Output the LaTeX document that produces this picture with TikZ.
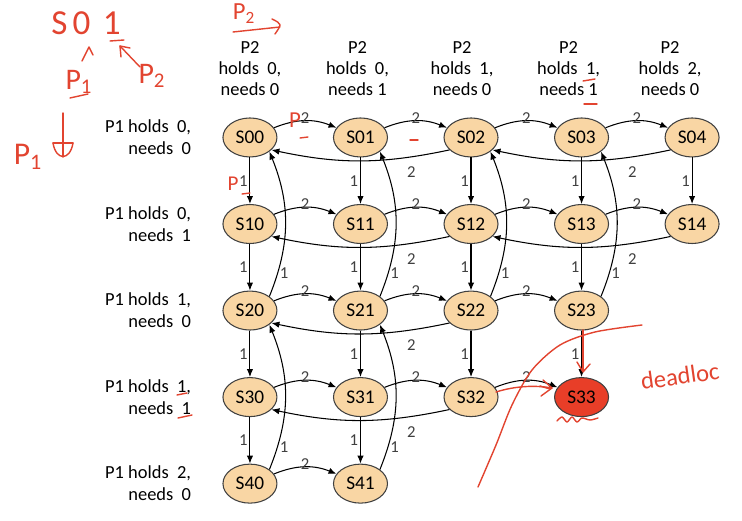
\documentclass[tikz,border=0pt]{standalone}
\usepackage{fontspec}
\setmainfont{Carlito}
\usetikzlibrary{arrows.meta,shapes.geometric,positioning}

\definecolor{stateorange}{RGB}{249,214,164}
\definecolor{deadred}{RGB}{232,62,40}
\definecolor{inkred}{RGB}{226,68,48}

\begin{document}
\begin{tikzpicture}[
  node distance=0.93cm and 1.11cm,
  state/.style={ellipse, draw=black!75, line width=0.6pt, fill=stateorange, minimum width=1.08cm, minimum height=0.78cm, inner sep=0pt, font=\fontsize{11}{13}\selectfont},
  dead/.style={state, fill=deadred},
  arrow/.style={-{Latex[length=4.5pt,width=3.6pt]}, line width=0.6pt},
  lab/.style={font=\fontsize{9.5}{11}\selectfont, text=black!75, inner sep=1pt},
  phead/.style={align=center, inner sep=0pt, font=\fontsize{10.5}{12.2}\selectfont},
  rowhead/.style={align=right, inner sep=0pt, font=\fontsize{10.5}{12.5}\selectfont},
  ink/.style={inkred, line width=0.8pt, line cap=round, line join=round},
  inktext/.style={text=inkred, inner sep=0pt}
]
%% Row 0
\node[state] (S00) {S00};
\node[state, right=of S00] (S01) {S01};
\node[state, right=of S01] (S02) {S02};
\node[state, right=of S02] (S03) {S03};
\node[state, right=of S03] (S04) {S04};

%% Row 1
\node[state, below=of S00] (S10) {S10};
\node[state, right=of S10] (S11) {S11};
\node[state, right=of S11] (S12) {S12};
\node[state, right=of S12] (S13) {S13};
\node[state, right=of S13] (S14) {S14};

%% Row 2
\node[state, below=of S10] (S20) {S20};
\node[state, right=of S20] (S21) {S21};
\node[state, right=of S21] (S22) {S22};
\node[state, right=of S22] (S23) {S23};

%% Row 3
\node[state, below=of S20] (S30) {S30};
\node[state, right=of S30] (S31) {S31};
\node[state, right=of S31] (S32) {S32};
\node[dead, right=of S32] (S33) {S33};

%% Row 4
\node[state, below=of S30] (S40) {S40};
\node[state, right=of S40] (S41) {S41};

%% Headers
\node[phead, above=0.42cm of S00] (c0) {P2\\holds\ \ 0,\\needs 0};
\node[phead, above=0.42cm of S01, xshift=-0.06cm] (c1) {P2\\holds\ \ 0,\\needs 1};
\node[phead, above=0.42cm of S02, xshift=-0.18cm] (c2) {P2\\holds\ \ 1,\\needs 0};
\node[phead, above=0.42cm of S03, xshift=-0.26cm] (c3) {P2\\holds\ \ 1,\\needs 1};
\node[phead, above=0.42cm of S04, xshift=-0.44cm] (c4) {P2\\holds\ \ 2,\\needs 0};
\node[rowhead, left=0.62cm of S00] (r0) {P1 holds\ \ 0,\\needs\ \ 0};
\node[rowhead, left=0.62cm of S10] (r1) {P1 holds\ \ 0,\\needs\ \ 1};
\node[rowhead, left=0.62cm of S20] (r2) {P1 holds\ \ 1,\\needs\ \ 0};
\node[rowhead, left=0.62cm of S30] (r3) {P1 holds\ \ 1,\\needs\ \ 1};
\node[rowhead, left=0.62cm of S40] (r4) {P1 holds\ \ 2,\\needs\ \ 0};

%% P2 moves
\draw[arrow] (S00) to[bend left=22] node[lab, above=-2.5pt] {2} (S01);
\draw[arrow] (S01) to[bend left=22] node[lab, above=-2.5pt] {2} (S02);
\draw[arrow] (S02) to[bend left=22] node[lab, above=-2.5pt] {2} (S03);
\draw[arrow] (S03) to[bend left=22] node[lab, above=-2.5pt] {2} (S04);
\draw[arrow] (S10) to[bend left=22] node[lab, above=-2.5pt] {2} (S11);
\draw[arrow] (S11) to[bend left=22] node[lab, above=-2.5pt] {2} (S12);
\draw[arrow] (S12) to[bend left=22] node[lab, above=-2.5pt] {2} (S13);
\draw[arrow] (S13) to[bend left=22] node[lab, above=-2.5pt] {2} (S14);
\draw[arrow] (S20) to[bend left=22] node[lab, above=-2.5pt] {2} (S21);
\draw[arrow] (S21) to[bend left=22] node[lab, above=-2.5pt] {2} (S22);
\draw[arrow] (S22) to[bend left=22] node[lab, above=-2.5pt] {2} (S23);
\draw[arrow] (S30) to[bend left=22] node[lab, above=-2.5pt] {2} (S31);
\draw[arrow] (S31) to[bend left=22] node[lab, above=-2.5pt] {2} (S32);
\draw[arrow] (S32) to[bend left=22] node[lab, above=-2.5pt] {2} (S33);
\draw[arrow] (S40) to[bend left=22] node[lab, above=-2.5pt] {2} (S41);

%% P2 releases
\draw[arrow] (S02.-150) to[bend left=12] node[lab, pos=0.2, below=4.5pt] {2} (S00.-30);
\draw[arrow] (S04.-150) to[bend left=12] node[lab, pos=0.2, below=4.5pt] {2} (S02.-30);
\draw[arrow] (S12.-150) to[bend left=12] node[lab, pos=0.2, below=4.5pt] {2} (S10.-30);
\draw[arrow] (S14.-150) to[bend left=12] node[lab, pos=0.2, below=4.5pt] {2} (S12.-30);
\draw[arrow] (S22.-150) to[bend left=12] node[lab, pos=0.2, below=4.5pt] {2} (S20.-30);
\draw[arrow] (S32.-150) to[bend left=12] node[lab, pos=0.2, below=4.5pt] {2} (S30.-30);

%% P1 moves
\draw[arrow] (S00) -- node[lab, left] {1} (S10);
\draw[arrow] (S10) -- node[lab, left] {1} (S20);
\draw[arrow] (S20) -- node[lab, left] {1} (S30);
\draw[arrow] (S30) -- node[lab, left] {1} (S40);
\draw[arrow] (S01) -- node[lab, left] {1} (S11);
\draw[arrow] (S11) -- node[lab, left] {1} (S21);
\draw[arrow] (S21) -- node[lab, left] {1} (S31);
\draw[arrow] (S31) -- node[lab, left] {1} (S41);
\draw[arrow] (S02) -- node[lab, left] {1} (S12);
\draw[arrow] (S12) -- node[lab, left] {1} (S22);
\draw[arrow] (S22) -- node[lab, left] {1} (S32);
\draw[arrow] (S03) -- node[lab, left] {1} (S13);
\draw[arrow] (S13) -- node[lab, left] {1} (S23);
\draw[arrow] (S23) -- node[lab, left] {1} (S33);
\draw[arrow] (S04) -- node[lab, left] {1} (S14);

%% P1 releases
\draw[arrow] (S20.north east) to[bend right=22] node[lab, pos=0.15, right] {1} (S00.south east);
\draw[arrow] (S21.north east) to[bend right=22] node[lab, pos=0.15, right] {1} (S01.south east);
\draw[arrow] (S22.north east) to[bend right=22] node[lab, pos=0.15, right] {1} (S02.south east);
\draw[arrow] (S23.north east) to[bend right=22] node[lab, pos=0.15, right] {1} (S03.south east);
\draw[arrow] (S40.north east) to[bend right=22] node[lab, pos=0.15, right] {1} (S20.south east);
\draw[arrow] (S41.north east) to[bend right=22] node[lab, pos=0.15, right] {1} (S21.south east);

%% Red ink, in pixels of the slide
\begin{scope}[shift={(-5cm,2.75cm)}, x=0.02cm, y=-0.02cm]
\useasboundingbox (0,0) rectangle (742,520);
\node[inktext, font=\fontsize{20}{20}\selectfont, anchor=west] (sone) at (51,23) {S\hspace{3pt}0\hspace{7pt}1};
\draw[ink] (110,41) -- (124,40);
\draw[ink] (82,61) -- (89,47) -- (93,55);
\draw[ink] (140,67) -- (120,46);
\draw[ink] (121,57) -- (120,46) -- (130,48);
\node[inktext, font=\fontsize{17}{17}\selectfont] (pone) at (79,82) {P\textsubscript{1}};
\draw[ink] (70,98) -- (88,94);
\node[inktext, font=\fontsize{17}{17}\selectfont] (ptwo) at (152,76) {P\textsubscript{2}};
\node[inktext, font=\fontsize{14}{14}\selectfont] (ptop) at (244,14) {P\textsubscript{2}};
\draw[ink] (233,32) -- (280,27);
\draw[ink] (272,19) .. controls (282,24) .. (275,34);
\node[inktext, font=\fontsize{18}{18}\selectfont] (pleft) at (28,157) {P\textsubscript{1}};
\draw[ink] (63,113) -- (63,157);
\draw[ink] (53,143) -- (73,143);
\draw[ink] (53,143) .. controls (56,161) and (70,161) .. (73,143);
\node[inktext, font=\fontsize{13}{13}\selectfont] (pmark) at (295,120) {P};
\draw[ink] (300,138) -- (308,137);
\draw[ink] (410,140) -- (418,140);
\node[inktext, font=\fontsize{12}{12}\selectfont] (qmark) at (233,184) {P};
\draw[ink] (242,194) -- (250,193);
\draw[ink] (583,81) -- (595,79);
\draw[ink] (584,104) -- (597,104);
\draw[ink] (177,395) -- (187,393);
\draw[ink] (178,418) -- (192,415);
%% deadlock
\draw[ink] plot[smooth] coordinates {(478,487) (496,445) (512,405) (532,370) (560,345) (595,332) (642,325)};
\draw[ink] (583,330) -- (583,371);
\draw[ink] (577,362) -- (583,372) -- (590,364);
\draw[ink] (496,392) .. controls (515,386) and (535,385) .. (552,388);
\draw[ink] (543,380) -- (552,388) -- (541,396);
\draw[ink] (540,386) -- (550,389);
\draw[ink] plot[smooth] coordinates {(557,421) (562,417) (567,422) (572,417) (577,422) (582,418) (590,420) (598,418)};
\node[inktext, font=\fontsize{14}{14}\selectfont, rotate=8] (dl) at (680,376) {deadloc};
\end{scope}
\end{tikzpicture}
\end{document}
